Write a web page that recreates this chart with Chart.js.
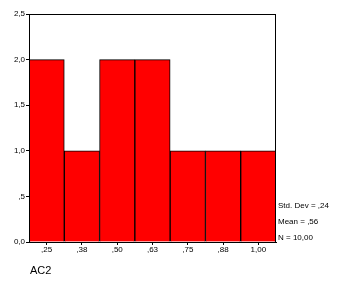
<!DOCTYPE html>
<html>
<head>
<meta charset="utf-8">
<script src="https://cdn.jsdelivr.net/npm/chart.js@4"></script>
<style>
  html, body { margin: 0; padding: 0; background: #fff; }
  #wrap { width: 363px; height: 290px; }
</style>
</head>
<body>
<div id="wrap"><canvas id="grafico"></canvas></div>
<script>
// dados do histograma
var categorias = [',25', ',38', ',50', ',63', ',75', ',88', '1,00'];
var frequencias = [2, 1, 2, 2, 1, 1, 1];
var rotulosY = { 0: '0,0', 0.5: ',5', 1: '1,0', 1.5: '1,5', 2: '2,0', 2.5: '2,5' };
var estatisticas = ['Std. Dev = ,24', 'Mean = ,56', 'N = 10,00'];
var nomeVariavel = 'AC2';

var fonte = 'Liberation Sans, Arial, sans-serif';

// moldura e textos extras
var extras = {
  id: 'extras',
  afterDraw: function (chart) {
    var c = chart.ctx;
    var a = chart.chartArea;
    c.save();
    c.strokeStyle = '#000';
    c.lineWidth = 1;
    c.strokeRect(a.left + 0.5, a.top + 0.5, a.right - a.left - 1, a.bottom - a.top);
    c.fillStyle = '#000';
    c.font = '8px ' + fonte;
    c.textBaseline = 'middle';
    c.textAlign = 'left';
    var ys = [206, 222, 238];
    for (var i = 0; i < estatisticas.length; i++) {
      c.fillText(estatisticas[i], a.right + 2, ys[i]);
    }
    c.font = '11px ' + fonte;
    c.fillText(nomeVariavel, 30, 271);
    c.restore();
  }
};

var ctx = document.getElementById('grafico').getContext('2d');
var chart = new Chart(ctx, {
  type: 'bar',
  data: {
    labels: categorias,
    datasets: [{
      data: frequencias,
      backgroundColor: '#ff0000',
      borderColor: '#000000',
      borderWidth: 1,
      barPercentage: 1,
      categoryPercentage: 1
    }]
  },
  options: {
    responsive: true,
    maintainAspectRatio: false,
    animation: false,
    layout: { padding: { left: 0, right: 87, top: 14, bottom: 0 } },
    plugins: { legend: { display: false }, tooltip: { enabled: false } },
    scales: {
      x: {
        grid: { display: true, drawOnChartArea: false, color: '#000', tickLength: 3, offset: false },
        border: { color: '#000', width: 1 },
        ticks: { color: '#000', font: { family: fonte, size: 8 }, padding: 0, maxRotation: 0 },
        afterFit: function (s) { s.height = 48; }
      },
      y: {
        min: 0,
        max: 2.5,
        grid: { display: true, drawOnChartArea: false, color: '#000', tickLength: 3 },
        border: { color: '#000', width: 1 },
        ticks: {
          stepSize: 0.5,
          color: '#000',
          font: { family: fonte, size: 8 },
          padding: 1,
          callback: function (v) { return rotulosY[v]; }
        },
        afterFit: function (s) { s.width = 29; }
      }
    }
  },
  plugins: [extras]
});
</script>
</body>
</html>
